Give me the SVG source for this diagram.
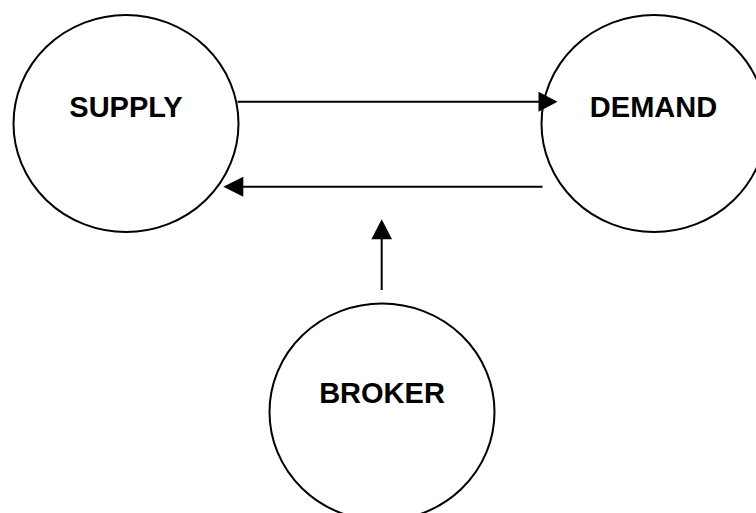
<svg xmlns="http://www.w3.org/2000/svg" width="756" height="513" viewBox="0 0 756 513">
<style>
.node{fill:#fff;stroke:#000;stroke-width:2}
.lbl{font-family:"Liberation Sans",Arial,sans-serif;font-weight:bold;font-size:29px;text-anchor:middle;fill:#000}
.edge{stroke:#000;stroke-width:2;fill:none}
.head{fill:#000;stroke:none}
</style>
<rect width="756" height="513" fill="#fff"/>
<g id="supply">
<ellipse class="node" cx="126" cy="123.5" rx="112.5" ry="108.5"/>
<text class="lbl" x="126" y="116.7">SUPPLY</text>
</g>
<g id="demand">
<ellipse class="node" cx="654" cy="123.5" rx="112.5" ry="108.5"/>
<text class="lbl" x="653.5" y="116.7">DEMAND</text>
</g>
<g id="broker">
<ellipse class="node" cx="382" cy="412" rx="112.5" ry="108.5"/>
<text class="lbl" x="382" y="403.3">BROKER</text>
</g>
<g id="connectors">
<line class="edge" x1="237.5" y1="101.7" x2="540" y2="101.7"/>
<polygon class="head" points="557.5,101.7 538.5,91.7 538.5,111.7"/>
<line class="edge" x1="542.5" y1="186.7" x2="241" y2="186.7"/>
<polygon class="head" points="223.3,186.7 243.3,176.7 243.3,196.7"/>
<line class="edge" x1="381.7" y1="290" x2="381.7" y2="238"/>
<polygon class="head" points="381.7,219.3 371.4,239.3 392,239.3"/>
</g>
</svg>
